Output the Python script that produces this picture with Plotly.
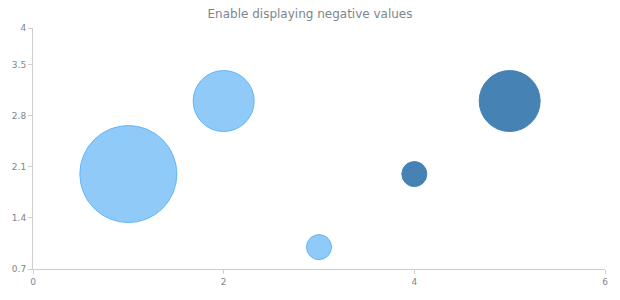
import plotly.graph_objects as go

x_vals = [1, 2, 3, 4, 5]
y_vals = [2, 3, 1, 2, 3]
size_vals = [3, 2, 1, -1, -2]
y_ticks = [0.7, 1.4, 2.1, 2.8, 3.5, 4]
x_ticks = [0, 2, 4, 6]

min_d, max_d = 25, 97
abs_s = [abs(s) for s in size_vals]
smin, smax = min(abs_s), max(abs_s)
diam = [min_d + (a - smin) / (smax - smin) * (max_d - min_d) for a in abs_s]

fill = ["#90CAF9" if s >= 0 else "#4682B4" for s in size_vals]
edge = ["#64B5F6" if s >= 0 else "#4682B4" for s in size_vals]

fig = go.Figure(go.Scatter(
    x=x_vals, y=y_vals, mode="markers",
    marker=dict(size=diam, sizemode="diameter", color=fill,
                line=dict(color=edge, width=1), opacity=1),
    hoverinfo="x+y", showlegend=False,
))

axis_common = dict(showgrid=False, zeroline=False, showline=True, linecolor="#CECECE",
                   linewidth=1, ticks="outside", ticklen=4, tickcolor="#CECECE",
                   tickfont=dict(family="DejaVu Sans", size=9, color="#7C868E"))

fig.update_layout(
    width=620, height=300,
    margin=dict(l=31, r=14, t=28, b=31),
    paper_bgcolor="white", plot_bgcolor="white",
    title=dict(text="Enable displaying negative values", x=0.5, xanchor="center",
               y=1 - 14 / 300, yanchor="middle",
               font=dict(family="DejaVu Sans", size=12, color="#7C868E")),
    xaxis=dict(range=[0, 6], tickvals=x_ticks, ticktext=[str(t) for t in x_ticks], **axis_common),
    yaxis=dict(range=[0.7, 4], tickvals=y_ticks, ticktext=[str(t) for t in y_ticks], **axis_common),
)

fig.write_html("out.html")
